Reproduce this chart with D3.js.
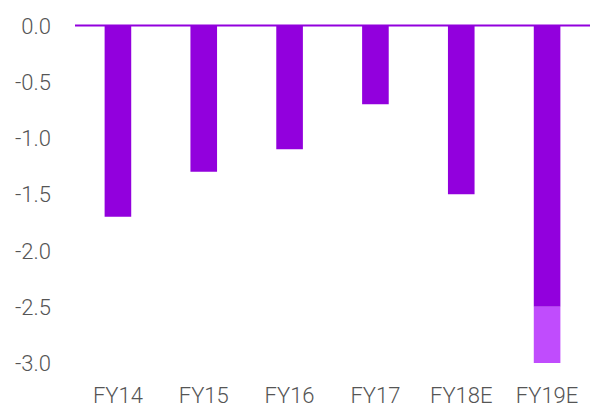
<!DOCTYPE html>
<html><head><meta charset="utf-8">
<script src="https://cdn.jsdelivr.net/npm/d3@7"></script>
<style>body{margin:0;background:#fff}svg{display:block}</style>
</head><body>
<script>
const categories = ["FY14","FY15","FY16","FY17","FY18E","FY19E"];
const mainValues = [-1.7,-1.3,-1.1,-0.7,-1.5,-2.5];
const extraValues = [0,0,0,0,0,-0.5];
const yTicks = [0,-0.5,-1,-1.5,-2,-2.5,-3];

const W=610,H=417;
const svg=d3.select("body").append("svg").attr("width",W).attr("height",H);
const x=d3.scaleBand().domain(categories).range([75,590]).paddingInner(0.69).paddingOuter(0.345);
const y=d3.scaleLinear().domain([0,-3]).range([25.5,363]);
const font="Roboto, 'Open Sans', sans-serif";

const yAxis=svg.append("g").attr("transform","translate(51,0)")
  .call(d3.axisLeft(y).tickValues(yTicks).tickSize(0).tickPadding(0).tickFormat(d=>Math.abs(d)<1e-9?"0.0":d.toFixed(1)));
yAxis.select(".domain").remove();
yAxis.selectAll("text").attr("font-family",font).attr("font-size",22).attr("font-weight",300).attr("fill","#555").attr("dy","0.35em");

svg.append("g").selectAll("rect.main").data(categories).join("rect")
  .attr("x",d=>x(d)).attr("width",x.bandwidth())
  .attr("y",y(0)).attr("height",(d,i)=>y(mainValues[i])-y(0))
  .attr("fill","#9200DD");
svg.append("g").selectAll("rect.extra").data(categories).join("rect")
  .attr("x",d=>x(d)).attr("width",x.bandwidth())
  .attr("y",(d,i)=>y(mainValues[i])).attr("height",(d,i)=>y(mainValues[i]+extraValues[i])-y(mainValues[i]))
  .attr("fill","#C04CFD");

svg.append("line").attr("x1",75).attr("x2",590).attr("y1",y(0)).attr("y2",y(0))
  .attr("stroke","#9200DD").attr("stroke-width",2);

const xAxis=svg.append("g").attr("transform","translate(0,387)")
  .call(d3.axisBottom(x).tickSize(0).tickPadding(0));
xAxis.select(".domain").remove();
xAxis.selectAll("text").attr("font-family",font).attr("font-size",22).attr("font-weight",300).attr("fill","#555").attr("dy","0.71em");
</script>
</body></html>
